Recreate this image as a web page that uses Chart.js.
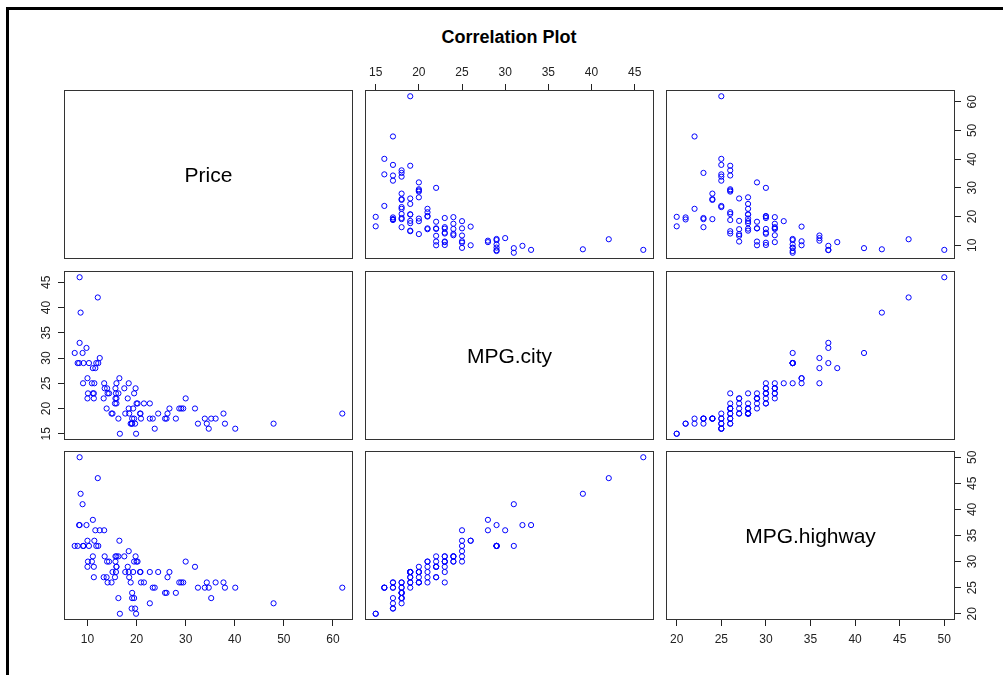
<!DOCTYPE html>
<html><head><meta charset="utf-8">
<script src="https://cdn.jsdelivr.net/npm/chart.js@4.4.1/dist/chart.umd.min.js"></script>
<style>
body{margin:0;background:#fff;width:1003px;height:675px;overflow:hidden;position:relative;font-family:"Liberation Sans",Arial,sans-serif;}
#frame{position:absolute;left:6px;top:7px;width:1100px;height:800px;border-top:3px solid #000;border-left:3px solid #000;}
canvas{position:absolute;}
#title{position:absolute;left:0;width:1018px;top:26px;line-height:22px;text-align:center;font-weight:bold;font-size:18px;color:#000;}
.diag{position:absolute;text-align:center;font-size:21px;line-height:24px;color:#000;}
</style></head><body>
<div id="frame"></div>
<div id="title">Correlation Plot</div>
<script>
const varNames = ["Price", "MPG.city", "MPG.highway"];
const price = [15.9,33.9,29.1,37.7,30.0,15.7,20.8,23.7,26.3,34.7,40.1,13.4,11.4,15.1,15.9,16.3,16.6,18.8,38.0,18.4,15.8,29.5,9.2,11.3,13.3,19.0,15.6,25.8,12.2,19.3,7.4,10.1,11.3,15.9,14.0,19.9,20.2,20.9,8.4,12.5,19.8,12.1,17.5,8.0,10.0,10.0,13.9,47.9,28.0,35.2,34.3,36.1,8.3,11.6,16.5,19.1,32.5,31.9,61.9,14.1,14.9,10.3,26.1,11.8,15.7,19.1,21.5,13.5,16.3,19.5,20.7,14.4,9.0,11.1,17.7,18.5,24.4,28.7,11.1,8.4,10.9,19.5,8.6,9.8,18.4,18.2,22.7,9.1,19.7,20.0,23.3,22.7,26.7];
const mpgCity = [25,18,20,19,22,22,19,16,19,16,16,25,25,19,21,18,15,17,17,20,23,20,29,23,22,17,21,18,29,20,31,23,22,22,24,15,21,18,46,30,24,42,24,29,22,26,20,17,18,18,17,18,29,28,26,18,17,20,19,23,19,29,18,29,24,17,21,24,23,18,19,23,31,23,19,19,19,20,28,33,25,23,39,32,25,22,18,25,17,21,18,21,20];
const mpgHighway = [31,25,26,26,30,31,28,25,27,25,25,36,34,28,29,23,20,26,25,28,28,26,33,29,27,21,27,24,33,28,33,30,27,29,30,20,30,26,50,36,31,46,31,33,29,34,27,22,24,23,26,26,37,36,34,24,25,29,25,26,26,33,24,33,30,23,26,31,31,23,28,30,41,31,28,27,28,26,38,37,30,30,43,37,32,29,22,33,21,30,25,28,28];
const priceTicks = [10, 20, 30, 40, 50, 60];
const cityTicks = [15, 20, 25, 30, 35, 40, 45];
const highwayTicks = [20, 25, 30, 35, 40, 45, 50];

const series = [price, mpgCity, mpgHighway];
const tickSets = [priceTicks, cityTicks, highwayTicks];
const ranges = series.map(v => {
  const lo = Math.min(...v), hi = Math.max(...v), d = (hi - lo) * 0.04;
  return [lo - d, hi + d];
});

const colLeft = [64, 365, 666], rowTop = [90, 271, 451];
const W = 289, H = 169, M = 40;
const FONT = {family: '"Liberation Sans", Arial, sans-serif', size: 12};

const boxPlugin = {
  id: 'box',
  afterDraw(chart) {
    const {ctx, chartArea: a} = chart;
    ctx.save();
    ctx.strokeStyle = '#333';
    ctx.lineWidth = 1;
    ctx.strokeRect(a.left + 0.5, a.top + 0.5, a.right - a.left - 1, a.bottom - a.top - 1);
    ctx.restore();
  }
};

const n = varNames.length;
for (let r = 0; r < n; r++) {
  for (let c = 0; c < n; c++) {
    const cv = document.createElement('canvas');
    cv.width = W + 2 * M; cv.height = H + 2 * M;
    cv.style.left = (colLeft[c] - M) + 'px';
    cv.style.top = (rowTop[r] - M) + 'px';
    cv.style.width = cv.width + 'px'; cv.style.height = cv.height + 'px';
    document.body.appendChild(cv);

    let xPos = null, yPos = null;
    if (r === 0 && c % 2 === 1) xPos = 'top';
    if (r === n - 1 && c % 2 === 0) xPos = 'bottom';
    if (c === 0 && r % 2 === 1) yPos = 'left';
    if (c === n - 1 && r % 2 === 0) yPos = 'right';

    const pad = {
      top: xPos === 'top' ? 0 : M,
      bottom: xPos === 'bottom' ? 0 : M,
      left: yPos === 'left' ? 0 : M,
      right: yPos === 'right' ? 0 : M
    };

    const pts = [];
    if (r !== c) {
      for (let k = 0; k < series[c].length; k++) pts.push({x: series[c][k], y: series[r][k]});
    }

    new Chart(cv, {
      type: 'scatter',
      data: {datasets: [{
        data: pts,
        pointStyle: 'circle',
        pointRadius: 2.6,
        pointHoverRadius: 2.6,
        pointBorderWidth: 1,
        borderColor: '#0000FF',
        backgroundColor: 'rgba(0,0,0,0)',
        showLine: false
      }]},
      options: {
        responsive: false,
        animation: false,
        devicePixelRatio: 1,
        events: [],
        layout: {padding: pad},
        plugins: {legend: {display: false}, tooltip: {enabled: false}, title: {display: false}},
        scales: {
          x: {
            type: 'linear',
            display: xPos !== null,
            position: xPos || 'bottom',
            min: ranges[c][0], max: ranges[c][1],
            afterBuildTicks: s => { s.ticks = tickSets[c].map(v => ({value: v})); },
            afterFit: s => { s.height = xPos ? M : 0; },
            grid: {display: true, drawOnChartArea: false, drawTicks: true, tickLength: 6, color: '#222', lineWidth: 1},
            border: {display: false},
            ticks: {font: FONT, color: '#222', padding: xPos === 'top' ? 4 : 6, minRotation: 0, maxRotation: 0, autoSkip: false}
          },
          y: {
            type: 'linear',
            display: yPos !== null,
            position: yPos || 'left',
            min: ranges[r][0], max: ranges[r][1],
            afterBuildTicks: s => { s.ticks = tickSets[r].map(v => ({value: v})); },
            afterFit: s => { s.width = yPos ? M : 0; },
            grid: {display: true, drawOnChartArea: false, drawTicks: true, tickLength: 6, color: '#222', lineWidth: 1},
            border: {display: false},
            ticks: {font: FONT, color: '#222', padding: yPos === 'left' ? 4.5 : 5.5, minRotation: 90, maxRotation: 90, crossAlign: 'center', autoSkip: false}
          }
        }
      },
      plugins: [boxPlugin]
    });

    if (r === c) {
      const d = document.createElement('div');
      d.className = 'diag';
      d.textContent = varNames[r];
      d.style.left = colLeft[c] + 'px';
      d.style.width = W + 'px';
      d.style.top = (rowTop[r] + H / 2 - 12) + 'px';
      document.body.appendChild(d);
    }
  }
}
</script>
</body></html>
